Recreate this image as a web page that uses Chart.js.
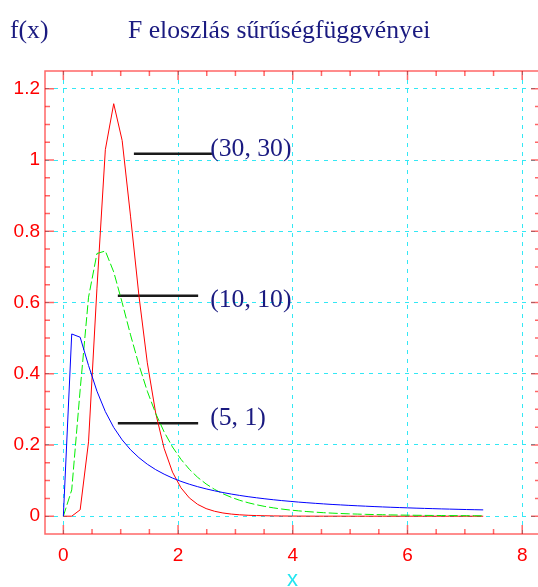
<!DOCTYPE html>
<html>
<head>
<meta charset="utf-8">
<script src="https://cdn.jsdelivr.net/npm/chart.js@4/dist/chart.umd.min.js"></script>
<style>
  html, body { margin: 0; padding: 0; background: #fff; overflow: hidden; }
  #wrap { width: 540px; height: 587px; }
</style>
</head>
<body>
<div id="wrap"><canvas id="grafico" width="540" height="587"></canvas></div>
<script>
// mintavételi pontok (x)
const xValues = [0, 0.146, 0.293, 0.439, 0.586, 0.732, 0.878, 1.025, 1.171, 1.318, 1.464,
  1.610, 1.757, 1.903, 2.050, 2.196, 2.342, 2.489, 2.635, 2.782, 2.928,
  3.074, 3.221, 3.367, 3.514, 3.660, 3.806, 3.953, 4.099, 4.246, 4.392,
  4.538, 4.685, 4.831, 4.978, 5.124, 5.270, 5.417, 5.563, 5.710, 5.856,
  6.002, 6.149, 6.295, 6.442, 6.588, 6.734, 6.881, 7.027, 7.174, 7.320];

// F(30, 30)
const f3030 = [0, 0.0000, 0.0179, 0.2087, 0.6404, 1.0290, 1.1582, 1.0550, 0.8425, 0.6188, 0.4306,
  0.2895, 0.1904, 0.1237, 0.0798, 0.0513, 0.0331, 0.0213, 0.0139, 0.0090, 0.0059,
  0.0039, 0.0026, 0.0017, 0.0012, 0.0008, 0.0005, 0.0004, 0.0003, 0.0002, 0.0001,
  0.0001, 0.0001, 0.0001, 0, 0, 0, 0, 0, 0, 0,
  0, 0, 0, 0, 0, 0, 0, 0, 0, 0];

// F(10, 10)
const f1010 = [0, 0.0738, 0.3550, 0.6149, 0.7376, 0.7446, 0.6859, 0.5999, 0.5092, 0.4247, 0.3508,
  0.2884, 0.2367, 0.1943, 0.1598, 0.1318, 0.1090, 0.0905, 0.0754, 0.0630, 0.0530,
  0.0446, 0.0378, 0.0321, 0.0273, 0.0234, 0.0201, 0.0173, 0.0150, 0.0130, 0.0113,
  0.0098, 0.0086, 0.0075, 0.0066, 0.0059, 0.0052, 0.0046, 0.0041, 0.0036, 0.0032,
  0.0029, 0.0026, 0.0023, 0.0021, 0.0019, 0.0017, 0.0015, 0.0014, 0.0013, 0.0011];

// F(5, 1)
const f51 = [0, 0.5116, 0.5025, 0.4231, 0.3509, 0.2937, 0.2492, 0.2143, 0.1866, 0.1643, 0.1459,
  0.1307, 0.1180, 0.1071, 0.0978, 0.0898, 0.0828, 0.0767, 0.0713, 0.0664, 0.0621,
  0.0583, 0.0548, 0.0517, 0.0488, 0.0462, 0.0438, 0.0417, 0.0396, 0.0378, 0.0361,
  0.0345, 0.0330, 0.0317, 0.0304, 0.0292, 0.0281, 0.0270, 0.0260, 0.0251, 0.0242,
  0.0234, 0.0226, 0.0219, 0.0212, 0.0205, 0.0199, 0.0193, 0.0187, 0.0182, 0.0177];

const xTicks = [0, 2, 4, 6, 8];
const xTickLabels = ['0', '2', '4', '6', '8'];
const yTicks = [0, 0.2, 0.4, 0.6, 0.8, 1, 1.2];
const yTickLabels = ['0', '0.2', '0.4', '0.6', '0.8', '1', '1.2'];

// feliratok a görbékhez
const curveNames = ['(30, 30)', '(10, 10)', '(5, 1)'];
const markerX = [[1.23, 2.59], [0.95, 2.35], [0.95, 2.35]];
const markerY = [1.018, 0.619, 0.261];
const nameX = [2.56, 2.56, 2.56];
const nameY = [1.031, 0.607, 0.276];

const title = 'F eloszlás sűrűségfüggvényei';
const yTitle = 'f(x)';
const xTitle = 'x';

function pontok(ys) {
  return xValues.map((x, i) => ({ x: x, y: ys[i] }));
}

const keret = {
  id: 'keret',
  afterDatasetsDraw(chart) {
    const ctx = chart.ctx;
    const { left, right, top, bottom } = chart.chartArea;
    const xs = chart.scales.x;
    const ys = chart.scales.y;
    ctx.save();
    ctx.strokeStyle = 'rgba(255,0,0,0.6)';
    ctx.lineWidth = 1.5;
    ctx.strokeRect(left, top, right - left, bottom - top);
    ctx.beginPath();
    for (let v = 0; v <= xs.max; v += 0.5) {
      const px = xs.getPixelForValue(v);
      const len = v % 2 === 0 ? 9 : 5;
      ctx.moveTo(px, bottom); ctx.lineTo(px, bottom - len);
      ctx.moveTo(px, top); ctx.lineTo(px, top + len);
    }
    for (let i = 0; i <= 24; i++) {
      const py = ys.getPixelForValue(i * 0.05);
      const len = i % 4 === 0 ? 9 : 5;
      ctx.moveTo(left, py); ctx.lineTo(left + len, py);
      ctx.moveTo(right, py); ctx.lineTo(right - len, py);
    }
    ctx.stroke();
    ctx.restore();
  },
  afterDraw(chart) {
    const ctx = chart.ctx;
    const xs = chart.scales.x;
    const ys = chart.scales.y;
    const area = chart.chartArea;
    ctx.save();
    ctx.fillStyle = '#1a1a80';
    ctx.font = '25.7px "Liberation Serif"';
    ctx.textBaseline = 'alphabetic';
    ctx.textAlign = 'left';
    ctx.fillText(yTitle, 10, 38);
    ctx.fillText(title, 128, 38);
    ctx.textBaseline = 'middle';
    curveNames.forEach((t, i) => {
      ctx.fillText(t, xs.getPixelForValue(nameX[i]), ys.getPixelForValue(nameY[i]));
    });
    ctx.fillStyle = '#22e6f0';
    ctx.font = '22px "Liberation Sans"';
    ctx.textAlign = 'center';
    ctx.textBaseline = 'alphabetic';
    ctx.fillText(xTitle, (area.left + area.right) / 2, 586);
    ctx.restore();
  }
};

const datasets = [
  { label: 'F(5,1)', data: pontok(f51), borderColor: '#0000ff', borderWidth: 1, pointRadius: 0, fill: false },
  { label: 'F(10,10)', data: pontok(f1010), borderColor: '#00ee00', borderWidth: 1, borderDash: [9, 3], pointRadius: 0, fill: false },
  { label: 'F(30,30)', data: pontok(f3030), borderColor: '#ff0000', borderWidth: 1, pointRadius: 0, fill: false }
];
markerX.forEach((xx, i) => {
  datasets.push({
    label: curveNames[i],
    data: [{ x: xx[0], y: markerY[i] }, { x: xx[1], y: markerY[i] }],
    borderColor: '#1a1a1a', borderWidth: 2.5, pointRadius: 0, fill: false
  });
});

new Chart(document.getElementById('grafico'), {
  type: 'scatter',
  data: { datasets: datasets },
  plugins: [keret],
  options: {
    responsive: false,
    animation: false,
    showLine: true,
    layout: { padding: { top: 71, left: 0, right: 0, bottom: 0 } },
    elements: { line: { tension: 0 } },
    plugins: {
      legend: { display: false },
      tooltip: { enabled: false },
      title: { display: false }
    },
    scales: {
      x: {
        type: 'linear',
        min: -0.32,
        max: 8.31,
        afterBuildTicks: (s) => { s.ticks = xTicks.map(v => ({ value: v })); },
        afterFit: (s) => { s.height = 53; s.paddingLeft = 0; s.paddingRight = 0; },
        grid: { color: '#33e8f5', lineWidth: 1, drawTicks: false },
        border: { display: false, dash: [4, 5] },
        ticks: {
          color: '#ff0000',
          padding: 10,
          maxRotation: 0,
          font: { family: '"Liberation Sans"', size: 19 },
          callback: (v) => xTickLabels[xTicks.indexOf(v)]
        }
      },
      y: {
        type: 'linear',
        min: -0.05,
        max: 1.25,
        afterBuildTicks: (s) => { s.ticks = yTicks.map(v => ({ value: v })); },
        afterFit: (s) => { s.width = 45; s.paddingTop = 0; s.paddingBottom = 0; },
        grid: { color: '#33e8f5', lineWidth: 1, drawTicks: false },
        border: { display: false, dash: [4, 5] },
        ticks: {
          color: '#ff0000',
          padding: 5,
          font: { family: '"Liberation Sans"', size: 19 },
          callback: (v) => yTickLabels[yTicks.indexOf(v)]
        }
      }
    }
  }
});
</script>
</body>
</html>
